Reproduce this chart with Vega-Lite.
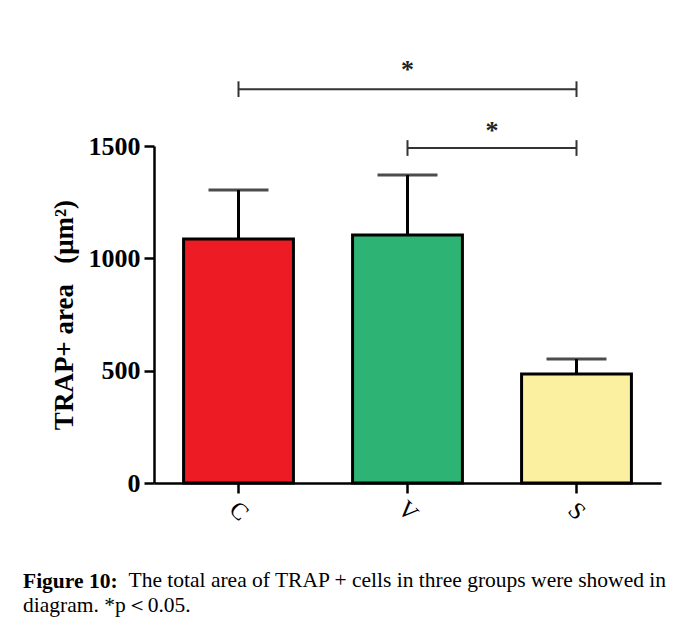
{
  "$schema": "https://vega.github.io/schema/vega-lite/v6.json",
  "width": 507,
  "height": 337,
  "autosize": {"type": "pad"},
  "padding": {"left": 23, "top": 56, "right": 14, "bottom": 5},
  "background": "white",
  "config": {"view": {"stroke": null}, "font": "Liberation Serif"},
  "title": {
    "text": "Figure 10:",
    "subtitle": "diagram. *p＜0.05.",
    "orient": "bottom",
    "anchor": "start",
    "frame": "group",
    "font": "Liberation Serif",
    "fontSize": 21.5,
    "fontWeight": "bold",
    "color": "black",
    "subtitleFont": "Liberation Serif",
    "subtitleFontSize": 21.5,
    "subtitleFontWeight": "normal",
    "subtitleColor": "black",
    "subtitlePadding": 3,
    "dx": -131,
    "offset": -20
  },
  "datasets": {
    "bars": [
      {"group": "C", "mean": 1086, "upper": 1304},
      {"group": "V", "mean": 1104, "upper": 1371},
      {"group": "S", "mean": 485, "upper": 552}
    ],
    "brackets": [
      {"from": "C", "to": "S", "y": 1753},
      {"from": "V", "to": "S", "y": 1491}
    ],
    "ends": [
      {"group": "C", "lo": 1718, "hi": 1788},
      {"group": "S", "lo": 1718, "hi": 1788},
      {"group": "V", "lo": 1456, "hi": 1526},
      {"group": "S", "lo": 1456, "hi": 1526}
    ],
    "star1": [{"group": "V", "y": 1840}],
    "star2": [{"group": "V", "y": 1568}]
  },
  "layer": [
    {
      "data": {"name": "bars"},
      "mark": {"type": "bar", "stroke": "black", "strokeWidth": 3},
      "encoding": {
        "x": {
          "field": "group", "type": "nominal", "sort": ["C", "V", "S"],
          "scale": {"domain": ["C", "V", "S"], "paddingInner": 0.35, "paddingOuter": 0.175},
          "axis": {
            "title": "The total area of TRAP + cells in three groups were showed in",
            "titleFont": "Liberation Serif", "titleFontSize": 21.5, "titleFontWeight": "normal", "titleColor": "black",
            "titleX": -26, "titleY": 103, "titleAlign": "left", "titleBaseline": "alphabetic", "titleAnchor": "start",
            "labelAngle": 45, "labelAlign": "center", "labelBaseline": "middle", "labelPadding": 18,
            "labelFont": "Liberation Serif", "labelFontSize": 24, "labelColor": "black",
            "tickSize": 10, "tickWidth": 2.5, "tickColor": "black",
            "domainWidth": 2.5, "domainColor": "black"
          }
        },
        "y": {
          "field": "mean", "type": "quantitative",
          "scale": {"domain": [0, 1500], "nice": false},
          "axis": {
            "title": "TRAP+ area\u00a0\u00a0\u00a0(μm²)",
            "titleFont": "Liberation Serif", "titleFontSize": 27, "titleFontWeight": "bold", "titleColor": "black",
            "titlePadding": 10,
            "values": [0, 500, 1000, 1500], "format": "d", "grid": false,
            "labelFont": "Liberation Serif", "labelFontSize": 26, "labelFontWeight": "bold", "labelColor": "black",
            "labelPadding": 4,
            "tickSize": 10, "tickWidth": 2.5, "tickColor": "black",
            "domainWidth": 2.5, "domainColor": "black"
          }
        },
        "color": {
          "field": "group", "type": "nominal",
          "scale": {"domain": ["C", "V", "S"], "range": ["#ED1C24", "#2DB474", "#FBF0A0"]},
          "legend": null
        }
      }
    },
    {
      "data": {"name": "bars"},
      "mark": {"type": "rule", "color": "black", "strokeWidth": 3},
      "encoding": {
        "x": {"field": "group", "type": "nominal", "sort": ["C", "V", "S"]},
        "y": {"field": "mean", "type": "quantitative"},
        "y2": {"field": "upper"}
      }
    },
    {
      "data": {"name": "bars"},
      "mark": {"type": "tick", "color": "black", "thickness": 3, "size": 60},
      "encoding": {
        "x": {"field": "group", "type": "nominal", "sort": ["C", "V", "S"]},
        "y": {"field": "upper", "type": "quantitative"}
      }
    },
    {
      "data": {"name": "brackets"},
      "mark": {"type": "rule", "color": "#333333", "strokeWidth": 2},
      "encoding": {
        "x": {"field": "from", "type": "nominal", "sort": ["C", "V", "S"]},
        "x2": {"field": "to"},
        "y": {"field": "y", "type": "quantitative"}
      }
    },
    {
      "data": {"name": "ends"},
      "mark": {"type": "rule", "color": "#333333", "strokeWidth": 2},
      "encoding": {
        "x": {"field": "group", "type": "nominal", "sort": ["C", "V", "S"]},
        "y": {"field": "lo", "type": "quantitative"},
        "y2": {"field": "hi"}
      }
    },
    {
      "data": {"name": "star1"},
      "mark": {"type": "text", "text": "*", "fontSize": 26, "fontWeight": "bold", "baseline": "middle", "color": "#222222"},
      "encoding": {
        "x": {"field": "group", "type": "nominal", "sort": ["C", "V", "S"]},
        "y": {"field": "y", "type": "quantitative"}
      }
    },
    {
      "data": {"name": "star2"},
      "mark": {"type": "text", "text": "*", "fontSize": 26, "fontWeight": "bold", "baseline": "middle", "color": "#222222"},
      "encoding": {
        "x": {"field": "group", "type": "nominal", "sort": ["C", "V", "S"], "bandPosition": 1.27},
        "y": {"field": "y", "type": "quantitative"}
      }
    }
  ]
}
